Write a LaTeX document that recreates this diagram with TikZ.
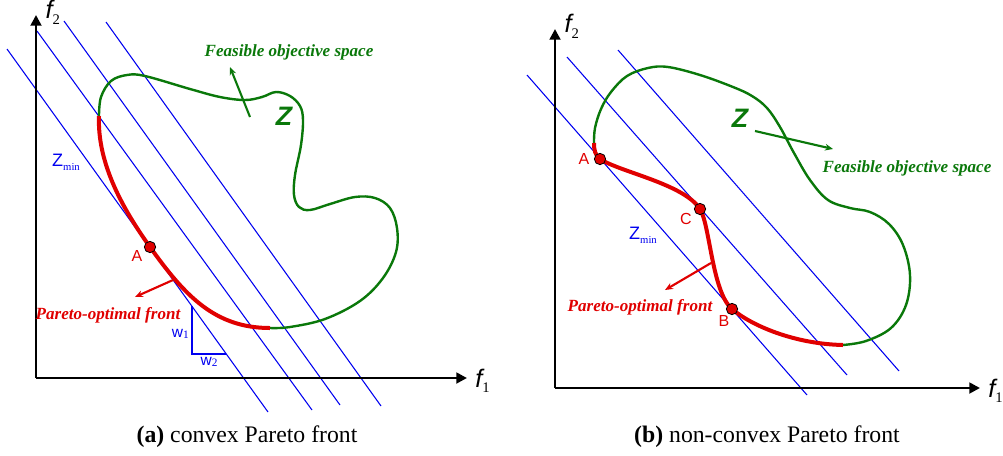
\documentclass[tikz,border=0pt]{standalone}
\usepackage{fontspec}
\setmainfont{Liberation Serif}
\newfontfamily\arial{Liberation Sans}
\usepackage{xcolor}
\usepackage{tikz}
\usetikzlibrary{arrows.meta,positioning}
\definecolor{zgreen}{HTML}{0A780A}
\definecolor{pred}{HTML}{E00000}
\definecolor{zblue}{HTML}{0000F0}
\tikzset{
  ax/.style={-{Triangle[length=8pt,width=8pt]},line width=2.2pt},
  lev/.style={zblue,line width=0.8pt},
  zone/.style={zgreen,line width=1.8pt},
  front/.style={pred,line width=3pt},
  ar/.style={-{Stealth[length=6pt,width=5pt]},line width=1.6pt},
  dot/.style={circle,draw=black,fill=pred,line width=0.6pt,minimum size=8.5pt,inner sep=0pt},
  lbl/.style={font=\arial\fontsize{12}{12}\selectfont,text=pred,inner sep=0pt},
  axl/.style={font=\arial\itshape\fontsize{19}{19}\selectfont,inner sep=0pt},
  note/.style={font=\bfseries\itshape\fontsize{12.8}{13}\selectfont,inner sep=0pt},
  big/.style={font=\arial\bfseries\itshape\fontsize{20}{20}\selectfont,zgreen,inner sep=0pt},
  captxt/.style={font=\fontsize{17.8}{19}\selectfont,inner sep=0pt}
}
\newcommand{\objaxes}[5]{\coordinate (o#1) at (#2,#3); \coordinate (xe#1) at (#4,#3); \coordinate (ye#1) at (#2,#5);
  \draw[ax] (o#1) -- (xe#1); \draw[ax] (o#1) -- (ye#1);}
\newcommand{\zmin}{{\arial\fontsize{13.5}{13.5}\selectfont Z}{\fontsize{8}{8}\selectfont\raisebox{-3pt}{min}}}
\newcommand{\fsub}[1]{f{\normalfont\upshape\fontsize{11}{11}\selectfont\raisebox{-4pt}{#1}}}

\begin{document}
\begin{tikzpicture}[x=0.75pt,y=-0.75pt]
\useasboundingbox (0,0) rectangle (1003,455);
% (a) convex
\foreach \a/\b/\c/\d in {7/49/268/412,37/31/312/410,64/21/340/405,106/22/381/406}{\draw[lev] (\a,\b) -- (\c,\d);}
\draw[lev] (192,306) -- (192,354) -- (226,354);
\draw[zone] plot[smooth,tension=0.6] coordinates {(99,116) (101,97) (111,81) (127,75) (145,76) (190,89) (220,97) (245,100) (262,97) (276,92) (290,96) (300,106) (303,120) (301,145) (295,175) (294,195) (299,207) (310,210) (330,204) (355,197) (375,198) (390,208) (397,228) (396,252) (383,278) (360,301) (325,319) (290,327) (270,328)};
\draw[front] (99,116) .. controls (97,165) and (125,212) .. (150,247) .. controls (185,296) and (215,328) .. (270,328);
\node[dot] (ptA) at (150,247) {};
\node[lbl] (lblA) at (137,256) {A};
\objaxes{L}{36}{378}{467}{15}
\node[axl,right=6pt of xeL,yshift=-2pt] (f1L) {\fsub{1}};
\node[axl,right=7pt of yeL,yshift=2pt] (f2L) {\fsub{2}};
\node[note,zgreen] (feasL) at (289,52) {Feasible objective space};
\node[big] (zL) at (284,116) {Z};
\coordinate (gsL) at (250,117); \coordinate (geL) at (230,67);
\draw[ar,zgreen] (gsL) -- (geL);
\node[zblue,inner sep=0pt] (zminL) at (66,162) {\zmin};
\coordinate (rsL) at (173,280); \coordinate (reL) at (135,297);
\draw[ar,pred] (rsL) -- (reL);
\node[note,pred] (parL) at (108,315) {Pareto-optimal front};
\node[zblue,font=\arial\fontsize{11.6}{12}\selectfont,inner sep=0pt,anchor=east] (w1) at (189,334) {w{\rmfamily\fontsize{8.5}{9}\selectfont\raisebox{-1pt}{1}}};
\node[zblue,font=\arial\fontsize{11.6}{12}\selectfont,inner sep=0pt,anchor=north] (w2) at (209,357) {w{\rmfamily\fontsize{8.5}{9}\selectfont\raisebox{-1pt}{2}}};
\node[captxt] (capA) at (247,437) {\textbf{(a)} convex Pareto front};
% (b) non-convex
\foreach \a/\b/\c/\d in {527/75/807/395,567/57/847/375,618/50/899/371}{\draw[lev] (\a,\b) -- (\c,\d);}
\draw[zone] plot[smooth,tension=0.6] coordinates {(594,143) (595,128) (601,109) (611,92) (627,76) (648,68) (668,67) (700,75) (733,87) (752,96) (767,108) (780,127) (794,153) (810,180) (828,200) (850,208) (870,212) (889,224) (903,245) (910,275) (906,305) (891,328) (866,341) (843,345)};
\draw[front] (594,143) .. controls (594,150) and (595,155) .. (600,159) .. controls (620,172) and (684,184) .. (700,209) .. controls (710,225) and (712,292) .. (732,309) .. controls (752,326) and (795,344) .. (843,345);
\node[dot] (ptAr) at (600,159) {};
\node[dot] (ptC) at (700,209) {};
\node[dot] (ptB) at (732,309) {};
\node[lbl] (lblAr) at (584,159) {A};
\node[lbl] (lblC) at (686,219) {C};
\node[lbl] (lblB) at (724,321) {B};
\objaxes{R}{555}{388}{980}{29}
\node[axl,right=6pt of xeR,yshift=-2pt] (f1R) {\fsub{1}};
\node[axl,right=7pt of yeR,yshift=2pt] (f2R) {\fsub{2}};
\node[big] (zR) at (740,118) {Z};
\coordinate (gsR) at (755,131); \coordinate (geR) at (833,149);
\draw[ar,zgreen] (gsR) -- (geR);
\node[note,zgreen] (feasR) at (907,168) {Feasible objective space};
\node[zblue,inner sep=0pt] (zminR) at (643,235) {\zmin};
\coordinate (rsR) at (711,263); \coordinate (reR) at (665,290);
\draw[ar,pred] (rsR) -- (reR);
\node[note,pred] (parR) at (640,307) {Pareto-optimal front};
\node[captxt] (capB) at (767,437) {\textbf{(b)} non-convex Pareto front};
\end{tikzpicture}
\end{document}
